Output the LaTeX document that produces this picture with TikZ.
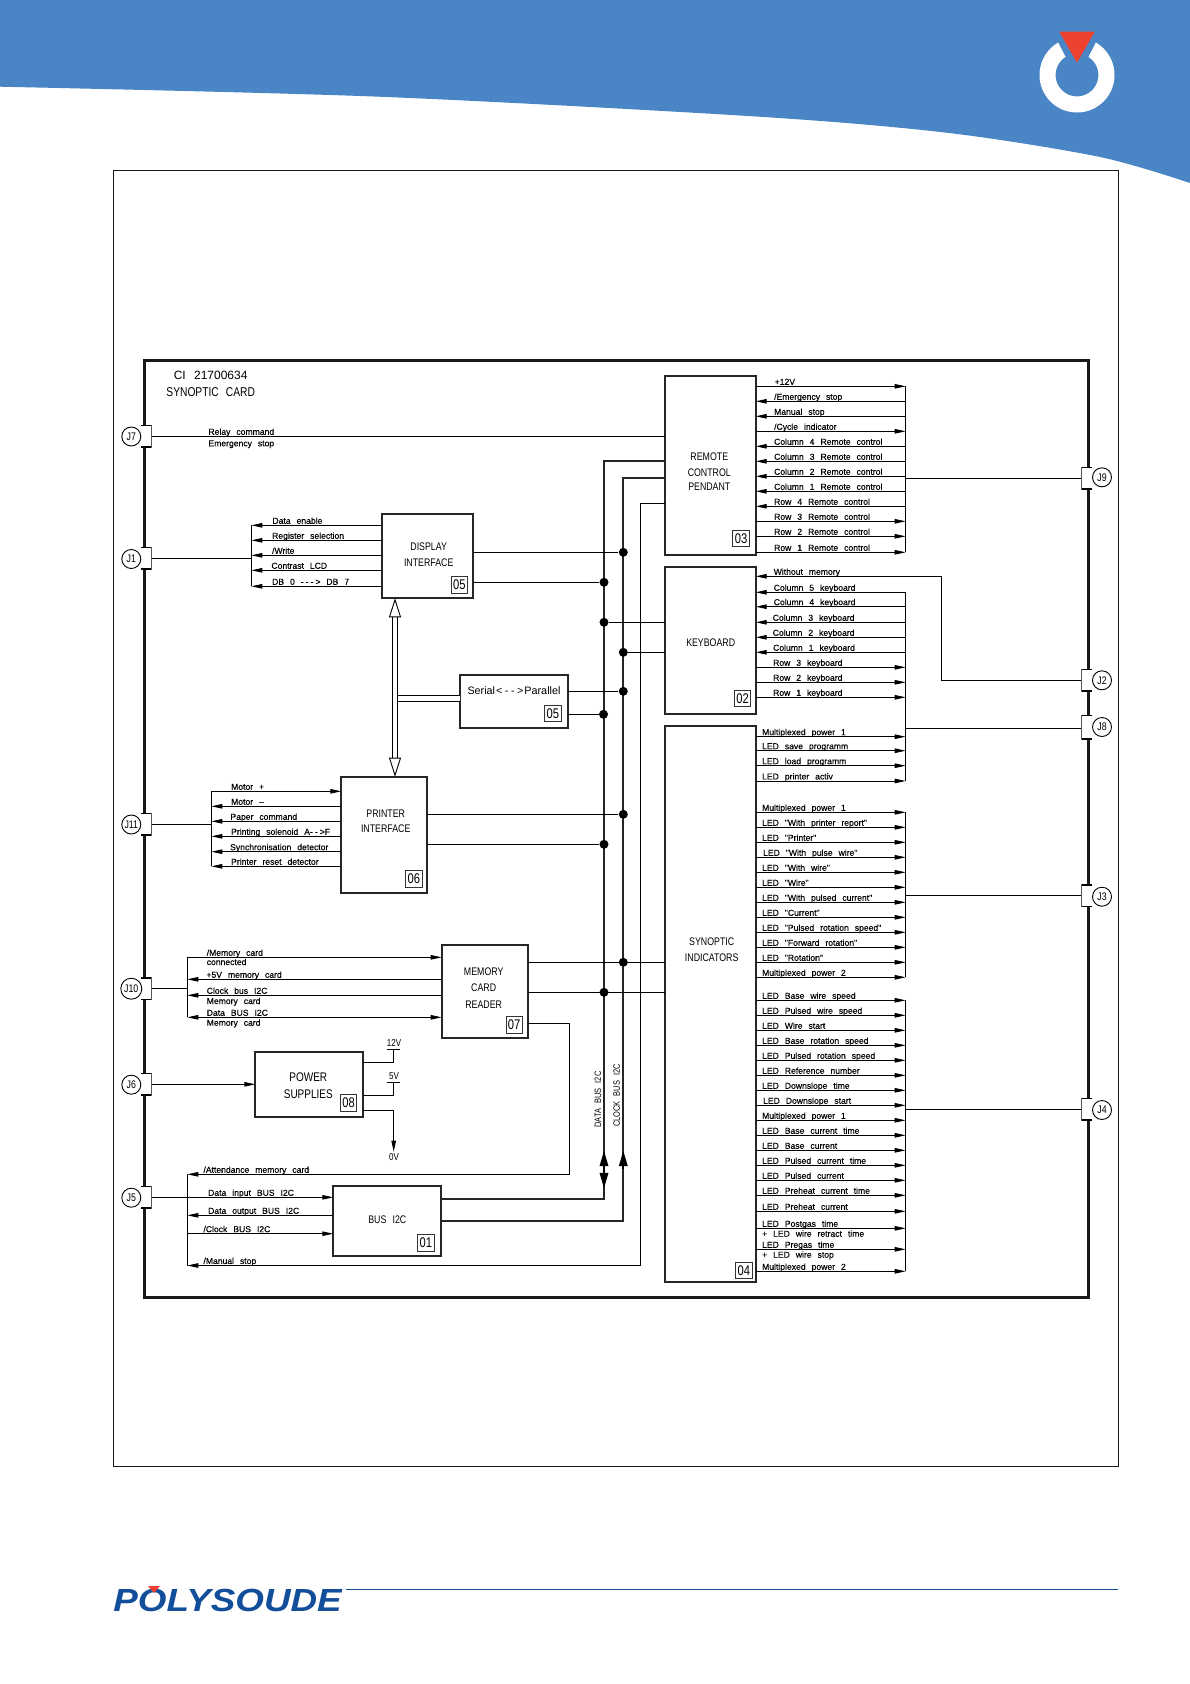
\documentclass[tikz,border=0pt]{standalone}
\usepackage{fontspec}
\usetikzlibrary{arrows.meta}
\newfontfamily\cadfont[WordSpace=2.5]{Liberation Sans}
\newfontfamily\sigfont[WordSpace=2.5,FakeBold=0.25]{Liberation Sans}
\newfontfamily\blockfont[FakeStretch=0.8,WordSpace=2.5]{Liberation Sans}
\newfontfamily\logofont[FakeStretch=1.15]{Liberation Sans}
\definecolor{banner}{HTML}{4A86C5}
\definecolor{logored}{HTML}{EF4130}
\definecolor{logoblue}{HTML}{134E9A}
\tikzset{
	sig/.style={anchor=south west,inner sep=0pt,text height=6.5pt,text depth=1.1pt,font=\sigfont\fontsize{8.6}{10}\selectfont},
	sigb/.style={anchor=base west,inner sep=0pt,font=\sigfont\fontsize{8.6}{10}\selectfont},
	blk/.style={draw,line width=2pt,color=black!85,text=black,fill=white,inner sep=0pt,outer sep=0pt},
	ttl/.style={inner sep=0pt,font=\blockfont\fontsize{11}{13}\selectfont},
	vlt/.style={inner sep=0pt,font=\blockfont\fontsize{10}{12}\selectfont},
	tag/.style={draw,line width=.9pt,color=black!80,text=black,fill=white,inner sep=0pt,minimum width=16.3pt,minimum height=16.6pt,font=\blockfont\fontsize{14}{16}\selectfont},
	jc/.style={draw,circle,line width=.9pt,fill=white,inner sep=0pt,minimum size=19pt,font=\blockfont\fontsize{11}{13}\selectfont},
	jtab/.style={fill=white,inner sep=0pt,outer sep=0pt,minimum width=10.7pt,minimum height=22pt,path picture={\draw[line width=2pt] (path picture bounding box.north west) -- (path picture bounding box.north east) -- (path picture bounding box.south east) -- (path picture bounding box.south west) ;}},
	jtabr/.style={fill=white,inner sep=0pt,outer sep=0pt,minimum width=10.7pt,minimum height=22pt,path picture={\draw[line width=2pt] (path picture bounding box.north east) -- (path picture bounding box.north west) -- (path picture bounding box.south west) -- (path picture bounding box.south east) ;}},
	jdot/.style={circle,fill=black,inner sep=0pt,minimum size=9pt},
	buswire/.style={line width=1.8pt,color=black!85},
	busdir/.style={line width=1.8pt,-{Triangle[length=15.5pt,width=8.5pt]}},
	hollow/.style={double,double distance=4.8pt,line width=.9pt,{Triangle[open,length=19pt,width=12pt,fill=white,line width=.9pt]}-{Triangle[open,length=19pt,width=12pt,fill=white,line width=.9pt]}},
	>={Stealth[length=11pt,width=4.5pt,inset=0pt]}
}
\begin{document}
\begin{tikzpicture}[x=1pt,y=-1pt,line width=.9pt]
	\useasboundingbox (0,0) rectangle (1190,1684) ;
	\fill[banner] (0,0) -- (1190,0) -- plot[smooth] coordinates {(1190,183) (1100,157) (949,133) (759,116.7) (379,96.7) (0,86.7)} -- cycle ;
	\fill[white,even odd rule] (1077,75) circle (37.5) (1077,75) circle (21.5) ;
	\fill[banner] (1052.7,31.7) -- (1101.3,31.7) -- (1085.3,62.7) -- (1068.7,62.7) -- cycle ;
	\fill[logored] (1059.3,31.7) -- (1094.7,31.7) -- (1077,62.7) -- cycle ;
	\draw[line width=1pt,black!90] (113.8,170) rectangle (1118,1466) ;
	\node (logo)[anchor=base west,inner sep=0pt,text=logoblue,font=\logofont\bfseries\itshape\fontsize{32}{34}\selectfont] at (113,1611) {POLYSOUDE} ;
	\fill[logored] (148,1586) -- (160,1586) -- (154,1593) -- cycle ;
	\coordinate (ll) at (346,1589.3) ;
	\coordinate (lr) at (1118,1589.3) ;
	\draw[logoblue,line width=.8pt] (ll) -- (lr) ;

	\draw[line width=3pt,black!90] (144,360) rectangle (1088,1297) ;
	\node (title1)[anchor=base west,inner sep=0pt,font=\cadfont\fontsize{12}{14}\selectfont] at (173.3,379.3) {CI 21700634} ;
	\node (title2)[anchor=base west,inner sep=0pt,font=\blockfont\fontsize{12.8}{14}\selectfont] at (166,396) {SYNOPTIC CARD} ;

	\node (t7)[jtab] at (146.3,436.3) {} ;
	\node (t1)[jtab] at (146.3,558.3) {} ;
	\node (t11)[jtab] at (146.3,824.3) {} ;
	\node (t10)[jtab] at (146.3,988.5) {} ;
	\node (t6)[jtab] at (146.3,1084.3) {} ;
	\node (t5)[jtab] at (146.3,1197.3) {} ;
	\node (t9)[jtabr] at (1086.7,478.3) {} ;
	\node (t2)[jtabr] at (1086.7,680.3) {} ;
	\node (t8)[jtabr,minimum height=24pt] at (1086.7,727.3) {} ;
	\node (t3)[jtabr] at (1086.7,895.5) {} ;
	\node (t4)[jtabr] at (1086.7,1109.3) {} ;
	\node (j7)[jc] at (131.3,436.5) {J7} ;
	\node (j1)[jc] at (131.3,559) {J1} ;
	\node (j11)[jc] at (131.3,824.5) {J11} ;
	\node (j10)[jc,minimum size=21pt] at (131.3,988.7) {J10} ;
	\node (j6)[jc] at (131.3,1084.7) {J6} ;
	\node (j5)[jc] at (131.3,1197.7) {J5} ;
	\node (j9)[jc] at (1102,477.3) {J9} ;
	\node (j2)[jc] at (1102,680.3) {J2} ;
	\node (j8)[jc] at (1102,727) {J8} ;
	\node (j3)[jc] at (1102,896.7) {J3} ;
	\node (j4)[jc] at (1102,1110) {J4} ;

	\node (disp)[blk,minimum width=91.3pt,minimum height=84.6pt] at (427.35,556) {} ;
	\node (ser)[blk,minimum width=107.4pt,minimum height=52.7pt] at (514,701.65) {} ;
	\node (rc)[blk,minimum width=90.4pt,minimum height=179pt] at (710.5,465.8) {} ;
	\node (kb)[blk,minimum width=90.4pt,minimum height=147.6pt] at (710.5,640.5) {} ;
	\node (syn)[blk,minimum width=90.4pt,minimum height=556pt] at (710.5,1004.3) {} ;
	\node (prn)[blk,minimum width=85.7pt,minimum height=116pt] at (384.15,834.7) {} ;
	\node (mem)[blk,minimum width=86pt,minimum height=92.7pt] at (484.7,991.65) {} ;
	\node (pow)[blk,minimum width=107.4pt,minimum height=65pt] at (309,1084.2) {} ;
	\node (bus)[blk,minimum width=107.4pt,minimum height=70.6pt] at (387,1221) {} ;

	\node (disp1)[ttl] at (428.7,547) {DISPLAY} ;
	\node (disp2)[ttl] at (428.7,562.7) {INTERFACE} ;
	\node (ser1)[ttl,font=\cadfont\fontsize{10.8}{13}\selectfont] at (514,691) {Serial\kern1pt<\kern2.5pt-\kern2.5pt-\kern2.5pt>\kern1ptParallel} ;
	\node (rc1)[ttl] at (709.3,457) {REMOTE} ;
	\node (rc2)[ttl] at (709.3,472.3) {CONTROL} ;
	\node (rc3)[ttl] at (709.3,487) {PENDANT} ;
	\node (kb1)[ttl] at (710.7,643) {KEYBOARD} ;
	\node (syn1)[ttl] at (711.7,941.7) {SYNOPTIC} ;
	\node (syn2)[ttl] at (711.7,957.3) {INDICATORS} ;
	\node (prn1)[ttl] at (385.7,813.3) {PRINTER} ;
	\node (prn2)[ttl] at (385.7,829) {INTERFACE} ;
	\node (mem1)[ttl] at (483.7,971.7) {MEMORY} ;
	\node (mem2)[ttl] at (483.7,987.7) {CARD} ;
	\node (mem3)[ttl] at (483.7,1004.3) {READER} ;
	\node (pow1)[ttl,font=\blockfont\fontsize{12.5}{14}\selectfont] at (308.3,1076.7) {POWER} ;
	\node (pow2)[ttl,font=\blockfont\fontsize{12.5}{14}\selectfont] at (308.3,1093.7) {SUPPLIES} ;
	\node (bus1)[ttl] at (387.3,1220) {BUS I2C} ;

	\node (tdisp)[tag] at (459.3,585) {05} ;
	\node (tser)[tag] at (552.8,713.6) {05} ;
	\node (trc)[tag] at (741,538.3) {03} ;
	\node (tkb)[tag] at (742.5,698.6) {02} ;
	\node (tsyn)[tag] at (743.8,1270.5) {04} ;
	\node (tprn)[tag] at (413.8,878.7) {06} ;
	\node (tmem)[tag] at (514.2,1025) {07} ;
	\node (tpow)[tag] at (348.5,1103) {08} ;
	\node (tbus)[tag] at (425.8,1243) {01} ;

	\coordinate (r1) at (251.3,558.3) ;
	\coordinate (r11) at (211.3,824.3) ;
	\coordinate (r10) at (187.3,988.5) ;
	\coordinate (r5) at (187.3,1197.3) ;
	\coordinate (r9) at (905.7,478.3) ;
	\coordinate (r8) at (905.7,728.3) ;
	\coordinate (r3) at (905.7,895.5) ;
	\coordinate (r4) at (905.7,1109.3) ;

	\node (rel)[sig] at (208,436.3) {Relay command} ;
	\node (eme)[sigb] at (208,446.3) {Emergency stop} ;
	\draw (t7.east) -- (rc.west |- t7.east) ;

	\node (d1)[sig] at (272,525.3) {Data enable} ;
	\node (d2)[sig] at (271.7,540.3) {Register selection} ;
	\node (d3)[sig] at (271.7,555.3) {/Write} ;
	\node (d4)[sig] at (271,570.3) {Contrast LCD} ;
	\node (d5)[sig] at (271.7,586.3) {DB 0 -\kern2pt-\kern2pt-\kern2pt> DB 7} ;
	\draw[<-] (r1 |- d1.south) -- (disp.west |- d1.south) ;
	\draw[<-] (r1 |- d2.south) -- (disp.west |- d2.south) ;
	\draw[<-] (r1 |- d3.south) -- (disp.west |- d3.south) ;
	\draw[<-] (r1 |- d4.south) -- (disp.west |- d4.south) ;
	\draw[<-] (r1 |- d5.south) -- (disp.west |- d5.south) ;
	\draw (r1 |- d1.south) -- (r1 |- d5.south) ;
	\draw (t1.east) -- (r1) ;

	\node (n1)[sig] at (230.7,791.3) {Motor +} ;
	\node (n2)[sig] at (230.7,806.3) {Motor –} ;
	\node (n3)[sig] at (230,821.3) {Paper command} ;
	\node (n4)[sig] at (230.7,836.3) {Printing solenoid A-\kern2pt-\kern2pt>F} ;
	\node (n5)[sig] at (229.7,851.7) {Synchronisation detector} ;
	\node (n6)[sig] at (230.7,866.3) {Printer reset detector} ;
	\draw[->] (r11 |- n1.south) -- (prn.west |- n1.south) ;
	\draw[<-] (r11 |- n2.south) -- (prn.west |- n2.south) ;
	\draw[<-] (r11 |- n3.south) -- (prn.west |- n3.south) ;
	\draw[<-] (r11 |- n4.south) -- (prn.west |- n4.south) ;
	\draw[<-] (r11 |- n5.south) -- (prn.west |- n5.south) ;
	\draw[<-] (r11 |- n6.south) -- (prn.west |- n6.south) ;
	\draw (r11 |- n1.south) -- (r11 |- n6.south) ;
	\draw (t11.east) -- (r11) ;

	\node (c1)[sig] at (206.3,957.3) {/Memory card} ;
	\node (c1b)[sigb] at (206.3,965) {connected} ;
	\node (c2)[sig] at (206,979.3) {+5V memory card} ;
	\node (c3)[sig] at (206.3,995.3) {Clock bus I2C} ;
	\node (c3b)[sigb] at (206.3,1004) {Memory card} ;
	\node (c4)[sig] at (206.3,1017.3) {Data BUS I2C} ;
	\node (c4b)[sigb] at (206.3,1025.7) {Memory card} ;
	\draw[->] (r10 |- c1.south) -- (mem.west |- c1.south) ;
	\draw[<-] (r10 |- c2.south) -- (mem.west |- c2.south) ;
	\draw[<-] (r10 |- c3.south) -- (mem.west |- c3.south) ;
	\draw[<->] (r10 |- c4.south) -- (mem.west |- c4.south) ;
	\draw (r10 |- c1.south) -- (r10 |- c4.south) ;
	\draw (t10.east) -- (r10) ;

	\draw[->] (t6.east) -- (pow.west |- t6.east) ;
	\node (v12)[vlt] at (394,1043) {12V} ;
	\node (v5)[vlt] at (394,1076) {5V} ;
	\node (v0)[vlt] at (394,1157.3) {0V} ;
	\coordinate (q1) at (393.7,1062.3) ;
	\coordinate (q2) at (393.7,1049.7) ;
	\coordinate (q3) at (387.3,1049.7) ;
	\coordinate (q4) at (400,1049.7) ;
	\coordinate (q5) at (393.7,1095.3) ;
	\coordinate (q6) at (393.7,1082.3) ;
	\coordinate (q7) at (387.3,1082.3) ;
	\coordinate (q8) at (400,1082.3) ;
	\coordinate (q9) at (393.7,1110.3) ;
	\coordinate (q10) at (393.7,1151.7) ;
	\draw (pow.east |- q1) -- (q1) -- (q2) ;
	\draw (q3) -- (q4) ;
	\draw (pow.east |- q5) -- (q5) -- (q6) ;
	\draw (q7) -- (q8) ;
	\draw[->] (pow.east |- q9) -- (q9) -- (q10) ;

	\node (b1)[sig] at (203,1174.3) {/Attendance memory card} ;
	\node (b2)[sig] at (207.7,1197.3) {Data input BUS I2C} ;
	\node (b3)[sig] at (207.7,1215.3) {Data output BUS I2C} ;
	\node (b4)[sig] at (203,1233.7) {/Clock BUS I2C} ;
	\node (b5)[sig] at (203,1265.5) {/Manual stop} ;
	\coordinate (m7) at (527.7,1023.7) ;
	\coordinate (m8) at (569.3,1023.7) ;
	\coordinate (m9) at (569.3,1174.3) ;
	\draw[->] (m7) -- (m8) -- (m9) -- (r5 |- m9) ;
	\draw[->] (t5.east) -- (bus.west |- t5.east) ;
	\draw[<-] (r5 |- b3.south) -- (bus.west |- b3.south) ;
	\draw[->] (r5 |- b4.south) -- (bus.west |- b4.south) ;
	\draw (r5 |- b1.south) -- (r5 |- b5.south) ;

	\coordinate (db1) at (604,460.7) ;
	\coordinate (db2) at (604,1199.3) ;
	\coordinate (db3) at (604,1169) ;
	\coordinate (db4) at (604,1150.7) ;
	\coordinate (db5) at (604,1188.3) ;
	\coordinate (cb1) at (623.3,478.3) ;
	\coordinate (cb2) at (623.3,1220.7) ;
	\coordinate (cb3) at (623.3,1169) ;
	\coordinate (cb4) at (623.3,1150.7) ;
	\coordinate (ms1) at (640.3,503.3) ;
	\coordinate (ms2) at (640.3,1265.5) ;
	\draw[buswire] (rc.west |- db1) -- (db1) -- (db2) -- (bus.east |- db2) ;
	\draw[buswire] (rc.west |- cb1) -- (cb1) -- (cb2) -- (bus.east |- cb2) ;
	\draw (rc.west |- ms1) -- (ms1) -- (ms2) ;
	\draw[->] (ms2) -- (r5 |- ms2) ;
	\draw[busdir] (db3) -- (db4) ;
	\draw[busdir] (db3) -- (db5) ;
	\draw[busdir] (cb3) -- (cb4) ;
	\node (ldb)[rotate=90,inner sep=0pt,font=\blockfont\fontsize{9.3}{11}\selectfont] at (598,1099.5) {DATA BUS I2C} ;
	\node (lcb)[rotate=90,inner sep=0pt,font=\blockfont\fontsize{9.3}{11}\selectfont] at (616.7,1095.5) {CLOCK BUS I2C} ;

	\node (e1)[jdot] at (623.3,552.3) {} ;
	\node (e2)[jdot] at (604,582.3) {} ;
	\node (e3)[jdot] at (604,622.3) {} ;
	\node (e4)[jdot] at (623.3,652.3) {} ;
	\node (e5)[jdot] at (623.3,691.3) {} ;
	\node (e6)[jdot] at (603.5,714.3) {} ;
	\node (e7)[jdot] at (623.3,814.3) {} ;
	\node (e8)[jdot] at (604,844.3) {} ;
	\node (e9)[jdot] at (623.3,962.3) {} ;
	\node (e10)[jdot] at (604,992.3) {} ;
	\draw (disp.east |- e1) -- (e1) ;
	\draw (disp.east |- e2) -- (e2) ;
	\draw (e3) -- (kb.west |- e3) ;
	\draw (e4) -- (kb.west |- e4) ;
	\draw (ser.east |- e5) -- (e5) ;
	\draw (ser.east |- e6) -- (e6) ;
	\draw (prn.east |- e7) -- (e7) ;
	\draw (prn.east |- e8) -- (e8) ;
	\draw (mem.east |- e9) -- (syn.west |- e9) ;
	\draw (mem.east |- e10) -- (syn.west |- e10) ;

	\coordinate (sa) at (398,698.7) ;
	\draw[double,double distance=4.8pt] (sa) -- (ser.west |- sa) ;
	\draw[hollow] (disp.south -| 395,0) -- (prn.north -| 395,0) ;

	\node (p1)[sig] at (774.3,386.3) {+12V} ;
	\node (p2)[sig] at (773.7,401.3) {/Emergency stop} ;
	\node (p3)[sig] at (773.7,416.3) {Manual stop} ;
	\node (p4)[sig] at (773.7,431.3) {/Cycle indicator} ;
	\node (p5)[sig] at (773.7,446.3) {Column 4 Remote control} ;
	\node (p6)[sig] at (773.7,461.3) {Column 3 Remote control} ;
	\node (p7)[sig] at (773.7,476.3) {Column 2 Remote control} ;
	\node (p8)[sig] at (773.7,491.3) {Column 1 Remote control} ;
	\node (p9)[sig] at (773.7,506.3) {Row 4 Remote control} ;
	\node (p10)[sig] at (773.7,521.3) {Row 3 Remote control} ;
	\node (p11)[sig] at (773.7,536.3) {Row 2 Remote control} ;
	\node (p12)[sig] at (773.7,552.3) {Row 1 Remote control} ;
	\draw[->] (rc.east |- p1.south) -- (r9 |- p1.south) ;
	\draw[<-] (rc.east |- p2.south) -- (r9 |- p2.south) ;
	\draw[<-] (rc.east |- p3.south) -- (r9 |- p3.south) ;
	\draw[->] (rc.east |- p4.south) -- (r9 |- p4.south) ;
	\draw[<-] (rc.east |- p5.south) -- (r9 |- p5.south) ;
	\draw[<-] (rc.east |- p6.south) -- (r9 |- p6.south) ;
	\draw[<-] (rc.east |- p7.south) -- (r9 |- p7.south) ;
	\draw[<-] (rc.east |- p8.south) -- (r9 |- p8.south) ;
	\draw[<-] (rc.east |- p9.south) -- (r9 |- p9.south) ;
	\draw[->] (rc.east |- p10.south) -- (r9 |- p10.south) ;
	\draw[->] (rc.east |- p11.south) -- (r9 |- p11.south) ;
	\draw[->] (rc.east |- p12.south) -- (r9 |- p12.south) ;
	\draw (r9 |- p1.south) -- (r9 |- p12.south) ;
	\draw (r9) -- (t9.west |- r9) ;

	\node (k0)[sig] at (773.3,576.3) {Without memory} ;
	\node (k1)[sig] at (773.3,592.3) {Column 5 keyboard} ;
	\node (k2)[sig] at (773.3,606.7) {Column 4 keyboard} ;
	\node (k3)[sig] at (772.3,622.3) {Column 3 keyboard} ;
	\node (k4)[sig] at (772.3,637.3) {Column 2 keyboard} ;
	\node (k5)[sig] at (772.7,652.3) {Column 1 keyboard} ;
	\node (k6)[sig] at (772.7,667.3) {Row 3 keyboard} ;
	\node (k7)[sig] at (772.7,682.3) {Row 2 keyboard} ;
	\node (k8)[sig] at (772.7,697.3) {Row 1 keyboard} ;
	\coordinate (w1) at (941.7,576.3) ;
	\coordinate (w2) at (941.7,680.3) ;
	\draw[<-] (kb.east |- w1) -- (w1) -- (w2) -- (t2.west |- w2) ;
	\draw[<-] (kb.east |- k1.south) -- (r8 |- k1.south) ;
	\draw[<-] (kb.east |- k2.south) -- (r8 |- k2.south) ;
	\draw[<-] (kb.east |- k3.south) -- (r8 |- k3.south) ;
	\draw[<-] (kb.east |- k4.south) -- (r8 |- k4.south) ;
	\draw[<-] (kb.east |- k5.south) -- (r8 |- k5.south) ;
	\draw[->] (kb.east |- k6.south) -- (r8 |- k6.south) ;
	\draw[->] (kb.east |- k7.south) -- (r8 |- k7.south) ;
	\draw[->] (kb.east |- k8.south) -- (r8 |- k8.south) ;

	\node (g1)[sig] at (761.7,736.7) {Multiplexed power 1} ;
	\node (g2)[sig] at (761.7,750.7) {LED save programm} ;
	\node (g3)[sig] at (761.7,765.7) {LED load programm} ;
	\node (g4)[sig] at (761.7,781) {LED printer activ} ;
	\draw[->] (syn.east |- g1.south) -- (r8 |- g1.south) ;
	\draw[->] (syn.east |- g2.south) -- (r8 |- g2.south) ;
	\draw[->] (syn.east |- g3.south) -- (r8 |- g3.south) ;
	\draw[->] (syn.east |- g4.south) -- (r8 |- g4.south) ;
	\draw (r8 |- k1.south) -- (r8 |- g4.south) ;
	\draw (r8) -- (t8.west |- r8) ;

	\node (h1)[sig] at (761.7,812.3) {Multiplexed power 1} ;
	\node (h2)[sig] at (761.7,827.3) {LED "With printer report"} ;
	\node (h3)[sig] at (761.7,842.3) {LED "Printer"} ;
	\node (h4)[sig] at (762.7,857.3) {LED "With pulse wire"} ;
	\node (h5)[sig] at (761.7,872.3) {LED "With wire"} ;
	\node (h6)[sig] at (761.7,887.3) {LED "Wire"} ;
	\node (h7)[sig] at (761.7,902.3) {LED "With pulsed current"} ;
	\node (h8)[sig] at (761.7,917.3) {LED "Current"} ;
	\node (h9)[sig] at (761.7,932.3) {LED "Pulsed rotation speed"} ;
	\node (h10)[sig] at (761.7,947.3) {LED "Forward rotation"} ;
	\node (h11)[sig] at (761.7,962.3) {LED "Rotation"} ;
	\node (h12)[sig] at (761.7,977.3) {Multiplexed power 2} ;
	\draw[->] (syn.east |- h1.south) -- (r3 |- h1.south) ;
	\draw[->] (syn.east |- h2.south) -- (r3 |- h2.south) ;
	\draw[->] (syn.east |- h3.south) -- (r3 |- h3.south) ;
	\draw[->] (syn.east |- h4.south) -- (r3 |- h4.south) ;
	\draw[->] (syn.east |- h5.south) -- (r3 |- h5.south) ;
	\draw[->] (syn.east |- h6.south) -- (r3 |- h6.south) ;
	\draw[->] (syn.east |- h7.south) -- (r3 |- h7.south) ;
	\draw[->] (syn.east |- h8.south) -- (r3 |- h8.south) ;
	\draw[->] (syn.east |- h9.south) -- (r3 |- h9.south) ;
	\draw[->] (syn.east |- h10.south) -- (r3 |- h10.south) ;
	\draw[->] (syn.east |- h11.south) -- (r3 |- h11.south) ;
	\draw[->] (syn.east |- h12.south) -- (r3 |- h12.south) ;
	\draw (r3 |- h1.south) -- (r3 |- h12.south) ;
	\draw (r3) -- (t3.west |- r3) ;

	\node (i1)[sig] at (761.7,1000.3) {LED Base wire speed} ;
	\node (i2)[sig] at (761.7,1015.3) {LED Pulsed wire speed} ;
	\node (i3)[sig] at (761.7,1030.3) {LED Wire start} ;
	\node (i4)[sig] at (761.7,1045.3) {LED Base rotation speed} ;
	\node (i5)[sig] at (761.7,1060.3) {LED Pulsed rotation speed} ;
	\node (i6)[sig] at (761.7,1075.3) {LED Reference number} ;
	\node (i7)[sig] at (761.7,1090.3) {LED Downslope time} ;
	\node (i8)[sig] at (762.7,1105.3) {LED Downslope start} ;
	\node (i9)[sig] at (761.7,1120.3) {Multiplexed power 1} ;
	\node (i10)[sig] at (761.7,1135.3) {LED Base current time} ;
	\node (i11)[sig] at (761.7,1150.3) {LED Base current} ;
	\node (i12)[sig] at (761.7,1165.3) {LED Pulsed current time} ;
	\node (i13)[sig] at (761.7,1180.3) {LED Pulsed current} ;
	\node (i14)[sig] at (761.7,1195.3) {LED Preheat current time} ;
	\node (i15)[sig] at (761.7,1211.3) {LED Preheat current} ;
	\node (i16)[sig] at (761.7,1228.3) {LED Postgas time} ;
	\node (i16b)[sigb] at (761.7,1236.7) {+ LED wire retract time} ;
	\node (i17)[sig] at (761.7,1249.3) {LED Pregas time} ;
	\node (i17b)[sigb] at (761.7,1257.7) {+ LED wire stop} ;
	\node (i18)[sig] at (761.7,1271.3) {Multiplexed power 2} ;
	\draw[->] (syn.east |- i1.south) -- (r4 |- i1.south) ;
	\draw[->] (syn.east |- i2.south) -- (r4 |- i2.south) ;
	\draw[->] (syn.east |- i3.south) -- (r4 |- i3.south) ;
	\draw[->] (syn.east |- i4.south) -- (r4 |- i4.south) ;
	\draw[->] (syn.east |- i5.south) -- (r4 |- i5.south) ;
	\draw[->] (syn.east |- i6.south) -- (r4 |- i6.south) ;
	\draw[->] (syn.east |- i7.south) -- (r4 |- i7.south) ;
	\draw[->] (syn.east |- i8.south) -- (r4 |- i8.south) ;
	\draw[->] (syn.east |- i9.south) -- (r4 |- i9.south) ;
	\draw[->] (syn.east |- i10.south) -- (r4 |- i10.south) ;
	\draw[->] (syn.east |- i11.south) -- (r4 |- i11.south) ;
	\draw[->] (syn.east |- i12.south) -- (r4 |- i12.south) ;
	\draw[->] (syn.east |- i13.south) -- (r4 |- i13.south) ;
	\draw[->] (syn.east |- i14.south) -- (r4 |- i14.south) ;
	\draw[->] (syn.east |- i15.south) -- (r4 |- i15.south) ;
	\draw[->] (syn.east |- i16.south) -- (r4 |- i16.south) ;
	\draw[->] (syn.east |- i17.south) -- (r4 |- i17.south) ;
	\draw[->] (syn.east |- i18.south) -- (r4 |- i18.south) ;
	\draw (r4 |- i1.south) -- (r4 |- i18.south) ;
	\draw (r4) -- (t4.west |- r4) ;
\end{tikzpicture}
\end{document}
